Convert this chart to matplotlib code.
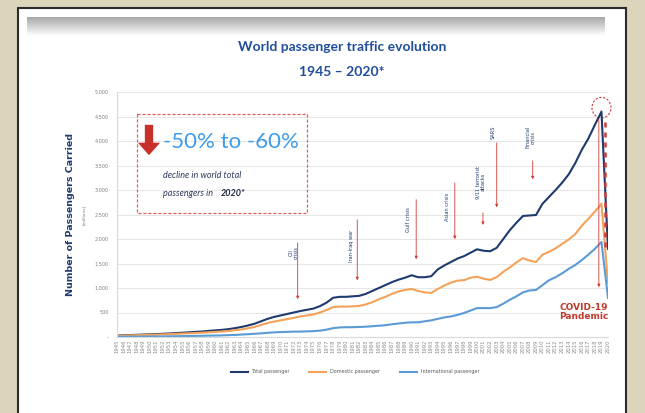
import numpy as np
import matplotlib
matplotlib.use("Agg")
import matplotlib.pyplot as plt
from matplotlib.patches import Rectangle, Ellipse

# passengers carried, millions, 1945-2020
years = list(range(1945, 2021))
total = [30, 35, 40, 45, 50, 55, 60, 65, 72, 80,
         88, 96, 105, 112, 125, 135, 145, 160, 180, 205,
         235, 270, 320, 370, 410, 440, 470, 500, 530, 555,
         580, 630, 700, 800, 820, 820, 830, 840, 880, 940,
         1000, 1060, 1120, 1170, 1210, 1260, 1220, 1220, 1240, 1380,
         1460, 1530, 1600, 1650, 1720, 1790, 1760, 1750, 1820, 2000,
         2180, 2330, 2470, 2480, 2490, 2720, 2860, 3000, 3150, 3320,
         3550, 3820, 4050, 4330, 4600, 1800]
domestic = [25, 29, 33, 37, 41, 45, 49, 53, 58, 64,
            70, 76, 82, 88, 97, 105, 112, 122, 138, 155,
            178, 205, 245, 285, 315, 340, 365, 390, 420, 440,
            460, 500, 550, 610, 620, 620, 625, 635, 665, 710,
            770, 820, 880, 930, 960, 980, 940, 910, 900, 980,
            1050, 1110, 1150, 1160, 1210, 1230, 1190, 1165, 1220, 1330,
            1420, 1520, 1610, 1560, 1530, 1680, 1740, 1810, 1900, 1990,
            2100, 2270, 2410, 2560, 2720, 1100]
international = [5, 6, 7, 8, 9, 10, 11, 12, 14, 16,
                 18, 20, 23, 24, 28, 30, 33, 38, 42, 50,
                 57, 65, 75, 85, 95, 100, 105, 110, 110, 115,
                 120, 130, 150, 180, 195, 200, 200, 205, 210, 220,
                 230, 240, 260, 275, 290, 300, 300, 320, 340, 370,
                 400, 420, 450, 490, 540, 590, 590, 590, 610, 680,
                 760, 830, 910, 950, 960, 1060, 1160, 1220, 1300, 1390,
                 1470, 1570, 1680, 1800, 1940, 800]

# events: label, year, arrow top, arrow tip, text year, text value
events = [
    ("Oil\ncrisis", 1972.6, 1980, 715, 1972.0, 1715),
    ("Iran-Iraq war", 1981.7, 2450, 1100, 1980.8, 1860),
    ("Gulf crisis", 1990.7, 2860, 1530, 1989.5, 2390),
    ("Asian crisis", 1996.6, 3200, 1940, 1995.5, 2650),
    ("9/11 terrorist\nattacks", 2000.9, 2590, 2230, 2000.6, 3160),
    ("SARS", 2003.0, 4020, 2590, 2002.4, 4180),
    ("Financial\ncrisis", 2008.5, 3650, 3160, 2008.2, 4080),
]

navy = "#1f3a6e"
orange = "#f4a25a"
lblue = "#5b9bd5"
red = "#d23a35"

W, H = 645, 413
fig = plt.figure(figsize=(W / 100, H / 100), dpi=100)
fig.patch.set_facecolor("#dbd5bc")

# slide background (pixel coordinates)
bg = fig.add_axes([0, 0, 1, 1], zorder=-2)
bg.axis("off")
bg.add_patch(Rectangle((18, 8), 608, 410, facecolor="white", edgecolor="#2b2b2b",
                       lw=1.5, zorder=0))
grad = np.linspace(0.66, 1.0, 40).reshape(-1, 1)
bg.imshow(grad, cmap="gray", vmin=0, vmax=1, aspect="auto",
          extent=(27, 605, 36, 17), zorder=1)
bg.set_xlim(0, W)
bg.set_ylim(H, 0)
bg.text(342, 47, "World passenger traffic evolution", ha="center", va="center",
        fontsize=10, fontweight="bold", color="#1f4e9c", family="Lato")
bg.text(342, 72, "1945 \u2013 2020*", ha="center", va="center",
        fontsize=10, fontweight="bold", color="#1f4e9c", family="Lato")

# chart
ax = fig.add_axes([117 / W, 1 - 337 / H, 491 / W, 245 / H], zorder=0)
ax.set_facecolor("none")
ax.plot(years, total, color=navy, lw=1.5, label="Total passenger")
ax.plot(years, domestic, color=orange, lw=1.5, label="Domestic passenger")
ax.plot(years, international, color=lblue, lw=1.5, label="International passenger")
ax.set_xlim(1945, 2020)
ax.set_ylim(0, 5000)
ax.set_yticks(range(0, 5001, 500))
ax.set_yticklabels(["-"] + [f"{v:,}" for v in range(500, 5001, 500)])
ax.set_xticks(years)
ax.set_xticklabels([str(y) for y in years], rotation=90)
ax.tick_params(axis="y", labelsize=3.5, colors="#7f7f7f", length=0, pad=6)
ax.tick_params(axis="x", labelsize=3.8, colors="#8a8a8a", length=0, pad=2)
ax.grid(axis="y", color="#e6e6e6", lw=0.7)
for s in ["top", "right"]:
    ax.spines[s].set_visible(False)
ax.spines["left"].set_color("#d9d9d9")
ax.spines["bottom"].set_color("#d9d9d9")
ax.set_axisbelow(True)

ax.set_ylabel("Number of Passengers Carried", fontsize=6.8, color=navy,
              fontweight="bold", labelpad=14)
ax.text(-0.068, 0.5, "[millions]", transform=ax.transAxes, rotation=90,
        ha="center", va="center", fontsize=3.2, color="#7f7f7f")

for label, yr, top, tip, tx, tv in events:
    ax.annotate("", xy=(yr, tip), xytext=(yr, top),
                arrowprops=dict(arrowstyle="-|>", color=red, lw=0.6,
                                mutation_scale=4))
    ax.text(tx, tv, label, rotation=90, ha="center", va="center",
            fontsize=3.6, color=navy, linespacing=1.0)

# COVID-19 marks
peak = total[years.index(2019)]
ax.add_patch(Ellipse((2019, peak + 80), 2.9, 420, fill=False, ec=red,
                     ls=(0, (2, 1.5)), lw=0.8, clip_on=False))
ax.annotate("", xy=(2018.6, 960), xytext=(2018.6, 4500),
            arrowprops=dict(arrowstyle="-|>", color=red, lw=0.6, mutation_scale=4))
ax.plot([2019.5, 2019.5], [1840, 4500], color=red, lw=1.8, ls=(0, (2, 2)),
        clip_on=False)
ax.text(2016.3, 510, "COVID-19\nPandemic", ha="center", va="center", fontsize=6.5,
        color="#c0392b", fontweight="bold", linespacing=1.1)

fig.legend(loc="center", bbox_to_anchor=(355 / W, 1 - 372 / H), ncol=3,
           frameon=False, fontsize=3.5, handlelength=3.5, columnspacing=4,
           labelcolor="#595959")

# callout box
ov = fig.add_axes([0, 0, 1, 1], zorder=2)
ov.set_facecolor("none")
ov.set_xlim(0, W)
ov.set_ylim(H, 0)
ov.axis("off")
ov.add_patch(Rectangle((137, 114), 170, 99, fill=False, ec="#e06060",
                       ls=(0, (2.5, 1.5)), lw=0.9))
ov.annotate("", xy=(149, 158), xytext=(149, 122),
            arrowprops=dict(arrowstyle="simple,head_width=1.6,head_length=0.9,tail_width=0.6",
                            color="#c8302a", mutation_scale=10, lw=0))
ov.text(163, 142, "-50% to -60%", ha="left", va="center", fontsize=16,
        color="#3d9be9", family="Lato")
ov.text(163, 175, "decline in world total", ha="left", va="center", fontsize=6.5,
        color="#2e3b5e", style="italic", family="Lato")
ov.text(163, 193, "passengers in ", ha="left", va="center", fontsize=6.5,
        color="#2e3b5e", style="italic", family="Lato")
ov.text(221, 193, "2020*", ha="left", va="center", fontsize=6.5,
        color="#1f2a44", style="italic", fontweight="bold", family="Lato")

fig.savefig("out.png", dpi=100, facecolor=fig.get_facecolor())
